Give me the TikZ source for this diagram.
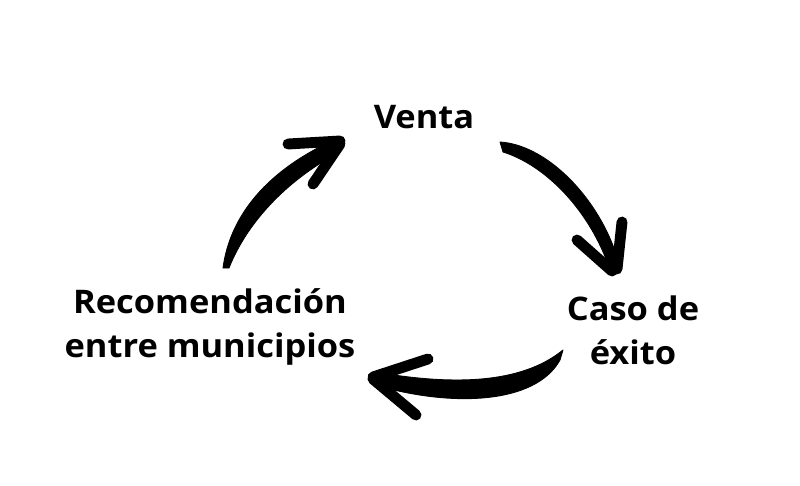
\documentclass[tikz,border=0pt]{standalone}
\usepackage{fontspec}
\setmainfont{Open Sans}[BoldFont={Open Sans Bold}, FakeStretch=1.06]
\tikzset{
  brush/.style={fill=black, draw=black, line width=0.5pt, line join=round},
  barb/.style={draw=black, line width=6.2pt, line cap=round},
  steplabel/.style={font=\bfseries\fontsize{18.5}{24.5}\selectfont, align=center, anchor=base, inner sep=0pt},
}
\begin{document}
\begin{tikzpicture}[x=0.02cm, y=-0.02cm]
\useasboundingbox (0,0) rectangle (800,486);
\node[steplabel] (venta) at (424,129) {Venta};
\node[steplabel] (caso) at (633,364) {Caso de\\éxito};
\node[steplabel] (recom) at (210,357) {Recomendación\\entre municipios};
\filldraw[brush] (223,268) .. controls (230,215) and (268,170) .. (334,140) -- (340,152) .. controls (290,178) and (248,220) .. (229,268) -- cycle;
\draw[barb] (288,144) -- (340,141);
\draw[barb] (340,144) -- (313,184);
\filldraw[brush] (500,142) .. controls (550,145) and (605,205) .. (620,268) -- (610,270) .. controls (590,210) and (545,165) .. (503,152) -- cycle;
\draw[barb] (577,240) -- (612,271);
\draw[barb] (622,222) -- (617,269);
\filldraw[brush] (563,350) .. controls (520,385) and (450,385) .. (375,372) -- (375,385) .. controls (450,407) and (535,405) .. (560,360) -- cycle;
\draw[barb] (428,359) -- (373,377);
\draw[barb] (373,379) -- (416,415);
\end{tikzpicture}
\end{document}
